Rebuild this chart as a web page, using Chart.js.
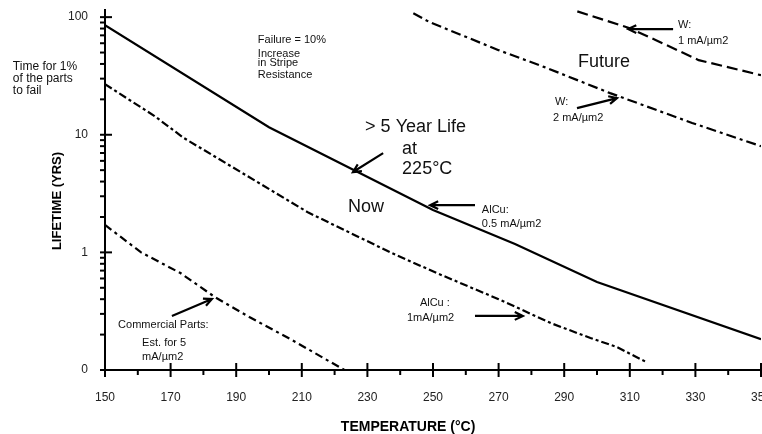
<!DOCTYPE html>
<html>
<head>
<meta charset="utf-8">
<script src="https://cdn.jsdelivr.net/npm/chart.js@4"></script>
<style>
  body { margin: 0; background: #fff; }
  #wrap { width: 762px; height: 434px; }
</style>
</head>
<body>
<div id="wrap"><canvas id="lifeChart"></canvas></div>
<script>
// Temperature (°C) / lifetime (years)
const alcuHalfTemp = [150, 200, 250, 275, 300, 350];
const alcuHalfLife = [85.5, 11.6, 2.29, 1.18, 0.56, 0.183];

const alcuOneTemp = [150, 165, 174, 212, 237, 251, 270, 286, 298, 306, 315];
const alcuOneLife = [26.9, 14.5, 9.4, 2.18, 1.0, 0.67, 0.40, 0.25, 0.187, 0.157, 0.117];

const commercialTemp = [150, 161, 173, 183.5, 194, 207, 223];
const commercialLife = [1.71, 1.0, 0.667, 0.417, 0.282, 0.18, 0.1];

const wTwoTemp = [244, 249, 270, 284, 304, 329, 350];
const wTwoLife = [108, 90.6, 52.4, 37.6, 22.6, 12.6, 8.0];

const wOneTemp = [294, 310, 318, 331, 350];
const wOneLife = [112, 80.5, 63.7, 43.1, 32.1];

// axis ticks
const xTicks = [150, 170, 190, 210, 230, 250, 270, 290, 310, 330, 350];
const yTickValues = [0.1, 1, 10, 100];
const yTickLabels = ['0', '1', '10', '100'];

function pairs(xs, ys) {
    return xs.map((t, i) => ({ x: t, y: ys[i] }));
}

const font = "'Liberation Sans', Arial, sans-serif";

// arrow with an open V head
function arrow(ctx, x1, y1, x2, y2) {
    const a = Math.atan2(y2 - y1, x2 - x1);
    const h = 9;
    ctx.beginPath();
    ctx.moveTo(x1, y1);
    ctx.lineTo(x2, y2);
    ctx.moveTo(x2 - h * Math.cos(a - 0.45), y2 - h * Math.sin(a - 0.45));
    ctx.lineTo(x2, y2);
    ctx.lineTo(x2 - h * Math.cos(a + 0.45), y2 - h * Math.sin(a + 0.45));
    ctx.stroke();
}

const extrasPlugin = {
    id: 'extras',
    afterDraw(chart) {
        const { ctx, chartArea } = chart;
        const xs = chart.scales.x, ys = chart.scales.y;
        const px = (t) => xs.getPixelForValue(t);
        const py = (v) => ys.getPixelForValue(v);

        ctx.save();
        ctx.strokeStyle = '#000';
        ctx.lineWidth = 2;

        // x tick marks (major cross the axis, minor below)
        xTicks.forEach(t => {
            ctx.beginPath();
            ctx.moveTo(px(t), chartArea.bottom - 7);
            ctx.lineTo(px(t), chartArea.bottom + 7);
            ctx.stroke();
            if (t < 350) {
                ctx.beginPath();
                ctx.moveTo(px(t + 10), chartArea.bottom);
                ctx.lineTo(px(t + 10), chartArea.bottom + 5);
                ctx.stroke();
            }
        });

        // y tick marks
        yTickValues.forEach(v => {
            ctx.beginPath();
            ctx.moveTo(chartArea.left - 5, py(v));
            ctx.lineTo(chartArea.left + 7, py(v));
            ctx.stroke();
            if (v < 100) {
                for (let k = 2; k <= 9; k++) {
                    ctx.beginPath();
                    ctx.moveTo(chartArea.left - 5, py(v * k));
                    ctx.lineTo(chartArea.left + 1, py(v * k));
                    ctx.stroke();
                }
            }
        });

        // axis titles
        ctx.fillStyle = '#000';
        ctx.font = 'bold 14px ' + font;
        ctx.textAlign = 'center';
        ctx.textBaseline = 'middle';
        ctx.fillText('TEMPERATURE (°C)', px(242.4), chartArea.bottom + 57);
        ctx.save();
        ctx.translate(chartArea.left - 48, 201);
        ctx.rotate(-Math.PI / 2);
        ctx.font = 'bold 13px ' + font;
        ctx.fillText('LIFETIME (YRS)', 0, 0);
        ctx.restore();

        // text notes
        ctx.textAlign = 'left';
        ctx.fillStyle = '#111';
        const note = (lines, t, v, size) => {
            ctx.font = size + 'px ' + font;
            lines.forEach(([txt, dx, dy]) => ctx.fillText(txt, px(t) + dx, py(v) + dy));
        };
        note([['Time for 1%', 0, 0], ['of the parts', 0, 12], ['to fail', 0, 24]], 121.9, 37.6, 12);
        note([['Failure = 10%', 0, 0], ['Increase', 0, 14], ['in Stripe', 0, 23], ['Resistance', 0, 35]], 196.6, 63.8, 11);
        note([['> 5 Year Life', 0, 0], ['at', 37, 22], ['225°C', 37, 42]], 229.3, 11.6, 18);
        note([['Now', 0, 0]], 224.1, 2.43, 18);
        note([['Future', 0, 0]], 294.2, 41.5, 18);
        note([['AlCu:', 0, 0], ['0.5 mA/µm2', 0, 14]], 264.9, 2.29, 11);
        note([['W:', 0, 0], ['1 mA/µm2', 0, 16]], 324.7, 85.5, 11);
        note([['W:', 0, 0], ['2 mA/µm2', -2, 16]], 287.2, 18.95, 11);
        note([['AlCu :', 0, 0], ['1mA/µm2', -13, 15]], 246.0, 0.371, 11);
        note([['Commercial Parts:', 0, 0], ['Est. for 5', 24, 18], ['mA/µm2', 24, 32]], 154.0, 0.241, 11);

        // pointer arrows
        ctx.lineWidth = 2.2;
        arrow(ctx, px(234.8), py(6.98), px(225.6), py(4.82));
        arrow(ctx, px(262.8), py(2.52), px(249.1), py(2.52));
        arrow(ctx, px(323.2), py(79.1), px(309.5), py(79.1));
        arrow(ctx, px(293.9), py(16.85), px(306.1), py(20.5));
        arrow(ctx, px(262.8), py(0.288), px(277.4), py(0.288));
        arrow(ctx, px(170.4), py(0.288), px(182.6), py(0.401));
        ctx.restore();
    }
};

const lineStyle = {
    borderColor: '#000',
    borderWidth: 2.2,
    pointRadius: 0,
    fill: false,
    tension: 0
};

new Chart(document.getElementById('lifeChart'), {
    type: 'line',
    data: {
        datasets: [
            { ...lineStyle, label: 'AlCu 0.5', data: pairs(alcuHalfTemp, alcuHalfLife) },
            { ...lineStyle, label: 'AlCu 1', data: pairs(alcuOneTemp, alcuOneLife), borderDash: [8, 3, 3, 3] },
            { ...lineStyle, label: 'Commercial', data: pairs(commercialTemp, commercialLife), borderDash: [8, 4, 3, 4] },
            { ...lineStyle, label: 'W 2', data: pairs(wTwoTemp, wTwoLife), borderDash: [10, 4, 3, 4] },
            { ...lineStyle, label: 'W 1', data: pairs(wOneTemp, wOneLife), borderDash: [11, 5] }
        ]
    },
    options: {
        responsive: true,
        maintainAspectRatio: false,
        animation: false,
        devicePixelRatio: 1,
        layout: { padding: { top: 10, right: 1, left: 0, bottom: 0 } },
        plugins: {
            legend: { display: false },
            tooltip: { enabled: false }
        },
        scales: {
            x: {
                type: 'linear',
                min: 150,
                max: 350,
                afterBuildTicks: (scale) => { scale.ticks = xTicks.map(v => ({ value: v })); },
                afterFit: (scale) => {
                    scale.height = 64;
                    scale.paddingLeft = 0; scale.paddingRight = 0;
                },
                grid: { display: false, drawTicks: false },
                border: { display: true, color: '#000', width: 2 },
                ticks: {
                    padding: 20,
                    color: '#222',
                    maxRotation: 0,
                    font: { family: font, size: 12 },
                    callback: (v) => String(v)
                }
            },
            y: {
                type: 'logarithmic',
                min: 0.1,
                max: 115,
                afterBuildTicks: (scale) => { scale.ticks = yTickValues.map(v => ({ value: v })); },
                afterFit: (scale) => {
                    scale.width = 105;
                    scale.paddingTop = 0; scale.paddingBottom = 0;
                },
                grid: { display: false, drawTicks: false },
                border: { display: true, color: '#000', width: 2 },
                ticks: {
                    padding: 17,
                    color: '#222',
                    font: { family: font, size: 12 },
                    callback: (v) => yTickLabels[yTickValues.indexOf(v)]
                }
            }
        }
    },
    plugins: [extrasPlugin]
});
</script>
</body>
</html>
